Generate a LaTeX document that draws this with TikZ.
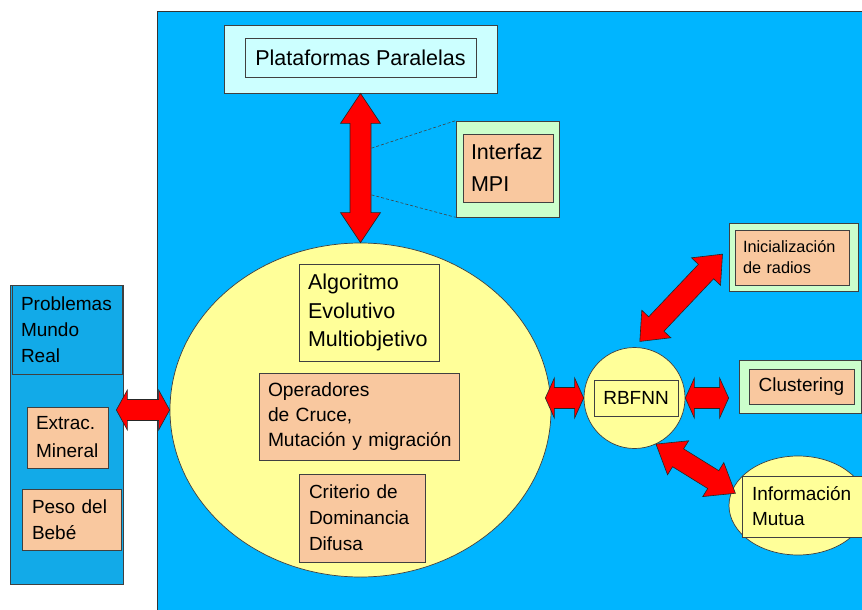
\documentclass[tikz,border=0pt]{standalone}
\usepackage{fontspec}
\setmainfont{Liberation Sans}
\usetikzlibrary{shapes.geometric,calc,positioning}
\definecolor{skyblue}{HTML}{00B5FF}
\definecolor{panelblue}{HTML}{12AAE8}
\definecolor{paleyellow}{HTML}{FFFF99}
\definecolor{salmon}{HTML}{F9C89F}
\definecolor{mint}{HTML}{CCFFCC}
\definecolor{icecyan}{HTML}{CCFFFF}
\definecolor{edge}{HTML}{404040}
\hyphenpenalty=10000
\exhyphenpenalty=10000
\tikzset{
  frame/.style={draw=edge,line width=0.7pt,inner sep=0pt},
  labelbox/.style={draw=edge,line width=0.7pt,align=left,inner ysep=0pt},
  bigtext/.style={font=\fontsize{21.5}{29}\selectfont},
  midtext/.style={font=\fontsize{19}{26}\selectfont},
  fatarrow/.style={draw=black!85,line width=0.6pt,fill=red,line join=miter},
  mpilink/.style={draw=black!75,dash pattern=on 3pt off 2pt,line width=0.6pt}
}
% double block arrow between two points: [head length]{from}{to}
\newcommand\dblarrow[3][26]{%
  \draw[fatarrow] let \p1=#2, \p2=#3,
      \n1={veclen(\x2-\x1,\y2-\y1)}, \n2={atan2(\y2-\y1,\x2-\x1)} in
    {[shift={(\p1)},rotate=\n2]
    (0pt,0pt) -- (#1pt,20pt) -- (#1pt,10.5pt) -- ({(\n1-#1)*1pt},10.5pt)
    -- ({(\n1-#1)*1pt},20pt) -- ({\n1*1pt},0pt) -- ({(\n1-#1)*1pt},-20pt)
    -- ({(\n1-#1)*1pt},-10.5pt) -- (#1pt,-10.5pt) -- (#1pt,-20pt) -- cycle};
}

\begin{document}
\begin{tikzpicture}[x=1pt,y=-1pt]
  \useasboundingbox (0,0) rectangle (862,610);
  \node[frame,draw=black!80,fill=skyblue,minimum width=712pt,minimum height=606pt,anchor=north west] (sys) at (157,11) {};

  % parallel platforms
  \node[frame,fill=icecyan,minimum width=273pt,minimum height=68pt] (plat) at (360.5,59) {};
  \node[labelbox,fill=icecyan,minimum width=231pt,minimum height=39pt,align=center,bigtext] (platlbl) at (360.5,57.5) {Plataformas Paralelas};
  \node[frame,fill=mint,minimum width=103pt,minimum height=96pt] (mpi) at (507.5,169) {};
  \node[labelbox,fill=salmon,minimum width=90pt,minimum height=68pt,text width=74pt,inner xsep=8pt,font=\fontsize{21.5}{32}\selectfont] (mpilbl) at (508,168) {Interfaz\\MPI};

  % evolutionary algorithm
  \node[ellipse,draw=edge,line width=0.7pt,fill=paleyellow,inner sep=0pt,minimum width=381pt,minimum height=334pt] (ea) at (360.5,410) {};
  \node[labelbox,fill=paleyellow,minimum width=140pt,minimum height=97pt,text width=122pt,inner xsep=9pt,font=\fontsize{21.5}{28.5}\selectfont] (moea) at (369,312.5) {Algoritmo\\Evolutivo\\Multiobjetivo};
  \node[labelbox,fill=salmon,minimum width=200pt,minimum height=87pt,text width=188pt,inner xsep=6pt,font=\fontsize{19.2}{25}\selectfont] (oper) at (359,416.5) {\hspace*{3pt}Operadores\\\hspace*{3pt}de Cruce,\\\hspace*{3pt}Mutación y migración};
  \node[labelbox,fill=salmon,minimum width=126pt,minimum height=88pt,text width=106pt,inner xsep=10pt,midtext] (fuzzy) at (362,518) {Criterio de\\Dominancia\\Difusa};

  % real world problems
  \node[frame,fill=panelblue,minimum width=113pt,minimum height=299pt] (panel) at (66.5,434.5) {};
  \node[labelbox,fill=panelblue,minimum width=110pt,minimum height=89pt,text width=92pt,inner xsep=9pt,midtext] (probs) at (67,329.5) {Problemas\\Mundo\\Real};
  \node[labelbox,fill=salmon,minimum width=81pt,minimum height=61pt,text width=63pt,inner xsep=9pt,font=\fontsize{19}{28}\selectfont] (mineral) at (67.5,437.5) {Extrac.\\Mineral};
  \node[labelbox,fill=salmon,minimum width=99pt,minimum height=61pt,text width=79pt,inner xsep=10pt,midtext] (baby) at (71.5,519.5) {Peso del\\Bebé};

  % RBF network
  \node[circle,draw=edge,line width=0.7pt,fill=paleyellow,inner sep=0pt,minimum size=101pt] (rbf) at (634.5,398) {};
  \node[labelbox,fill=paleyellow,minimum width=84pt,minimum height=36pt,align=center,midtext] (rbflbl) at (636,398) {RBFNN};
  \node[frame,fill=mint,minimum width=129pt,minimum height=68pt] (ini) at (793.5,257) {};
  \node[labelbox,fill=salmon,minimum width=114pt,minimum height=55pt,text width=98pt,inner xsep=8pt,font=\fontsize{16.3}{21}\selectfont] (inilbl) at (792,257.5) {Inicialización\\de radios};
  \node[frame,fill=mint,minimum width=122pt,minimum height=53pt] (clus) at (800,386.5) {};
  \node[labelbox,fill=salmon,minimum width=105pt,minimum height=35pt,align=center,midtext] (cluslbl) at (801.5,386.5) {Clustering};
  \node[ellipse,draw=edge,line width=0.7pt,fill=paleyellow,inner sep=0pt,minimum width=138pt,minimum height=99pt] (info) at (798,505.5) {};
  \node[labelbox,fill=paleyellow,minimum width=128pt,minimum height=61pt,text width=108pt,inner xsep=10pt,font=\fontsize{19}{25}\selectfont] (infolbl) at (806,506.5) {Información\\Mutua};

  % links
  \coordinate (d1) at ($(plat.south)!0.367!(ea.north)+(11,0)$);
  \coordinate (d2) at ($(plat.south)!0.68!(ea.north)+(11,0)$);
  \draw[mpilink] (d1) -- (mpi.north west);
  \draw[mpilink] (d2) -- (mpi.south west);

  \coordinate (lt) at ($(ea.west -| panel.east)+(-7,0)$);
  \coordinate (er) at ($(rbf.west -| ea.east)+(-6,0)$);
  \coordinate (cr) at ($(rbf.east -| clus.west)+(-10,0)$);
  \dblarrow[30]{(plat.south)}{(ea.north)}
  \dblarrow[11]{(lt)}{(ea.west)}
  \dblarrow[9]{(er)}{(rbf.west)}
  \dblarrow[9]{(rbf.east)}{(cr)}
  \dblarrow[24]{($(rbf.84)+(0,-6)$)}{($(ini.west)+(-6,-3)$)}
  \dblarrow[26]{(rbf.-65)}{($(info.168)+(4,2)$)}
\end{tikzpicture}
\end{document}
